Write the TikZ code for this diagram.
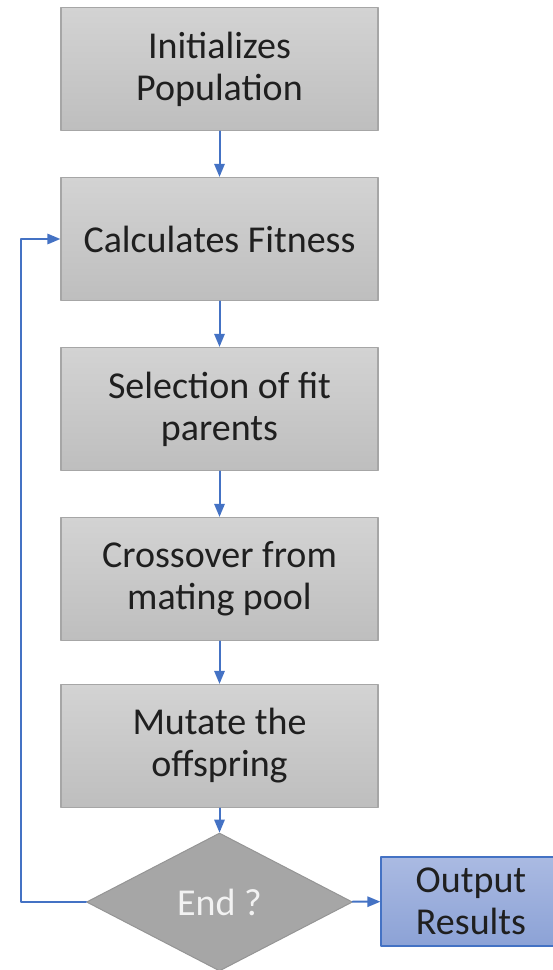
\documentclass[tikz,border=0pt]{standalone}
\usepackage{fontspec}
\setmainfont{Carlito}
\usetikzlibrary{arrows,shapes.geometric}
\definecolor{linkblue}{HTML}{4472C4}
\definecolor{boxtop}{HTML}{D3D3D3}
\definecolor{boxbot}{HTML}{BEBEBE}
\definecolor{boxline}{HTML}{A6A6A6}
\definecolor{outtop}{HTML}{AABAE2}
\definecolor{outbot}{HTML}{8CA2D6}
\tikzset{
	stepbox/.style={draw=boxline,line width=1.5pt,top color=boxtop,bottom color=boxbot,minimum width=317pt,minimum height=123pt,inner sep=0pt,align=center,text=black!88,font=\fontsize{38}{42}\selectfont},
	endbox/.style={diamond,draw=boxline!90!black,line width=1pt,fill=boxline,minimum width=266pt,minimum height=138pt,inner sep=0pt,text=white!95!black,font=\fontsize{38}{42}\selectfont},
	outbox/.style={draw=linkblue,line width=1.5pt,top color=outtop,bottom color=outbot,minimum width=180pt,minimum height=89pt,inner sep=0pt,align=center,text=black!88,font=\fontsize{38}{42}\selectfont},
	link/.style={->,draw=linkblue,line width=2pt}
}

\begin{document}
\begin{tikzpicture}[line cap=round,line join=round,>=triangle 45,x=1pt,y=1pt]
	\useasboundingbox (0,0) rectangle (553,-970);
	\clip (0,0) rectangle (553,-970);
	\node[stepbox] (init) at (219.5,-69) {Initializes\\Population};
	\node[stepbox] (fitness) at (219.5,-239) {Calculates Fitness};
	\node[stepbox] (select) at (219.5,-409) {Selection of fit\\parents};
	\node[stepbox] (cross) at (219.5,-579) {Crossover from\\mating pool};
	\node[stepbox] (mutate) at (219.5,-746) {Mutate the\\offspring};
	\node[endbox] (end) at (219.5,-902) {End ?};
	\node[outbox] (output) at (471,-901.5) {Output\\Results};
	\coordinate (loopbot) at (21,-902);
	\coordinate (looptop) at (21,-239);
	\draw[link] (init) -- (fitness);
	\draw[link] (fitness) -- (select);
	\draw[link] (select) -- (cross);
	\draw[link] (cross) -- (mutate);
	\draw[link] (mutate) -- (end);
	\draw[link] (end) -- (output);
	\draw[link] (end.west) -- (loopbot) -- (looptop) -- (fitness.west);
\end{tikzpicture}
\end{document}
